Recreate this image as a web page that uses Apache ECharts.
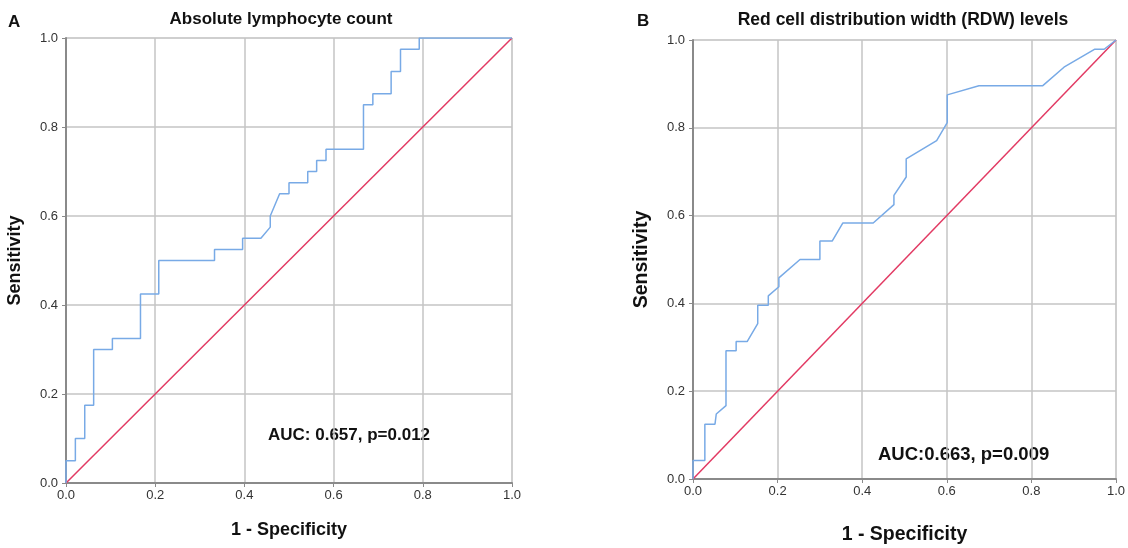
<!DOCTYPE html>
<html>
<head>
<meta charset="utf-8">
<script src="https://cdn.jsdelivr.net/npm/echarts@6/dist/echarts.min.js"></script>
<style>
  html, body { margin: 0; padding: 0; background: #fff; }
  #container { width: 1128px; height: 548px; }
</style>
</head>
<body>
<div id="container"></div>
<script>
// ROC curve A - absolute lymphocyte count (1 - specificity, sensitivity)
var fprA = [0, 0, 0.021, 0.021, 0.042, 0.042, 0.062, 0.062, 0.104, 0.104, 0.167, 0.167, 0.208, 0.208,
    0.333, 0.333, 0.396, 0.396, 0.437, 0.458, 0.458, 0.479, 0.5, 0.5, 0.542, 0.542, 0.562, 0.562,
    0.583, 0.583, 0.667, 0.667, 0.688, 0.688, 0.729, 0.729, 0.75, 0.75, 0.792, 0.792, 1];
var tprA = [0, 0.05, 0.05, 0.1, 0.1, 0.175, 0.175, 0.3, 0.3, 0.325, 0.325, 0.425, 0.425, 0.5,
    0.5, 0.525, 0.525, 0.55, 0.55, 0.575, 0.6, 0.65, 0.65, 0.675, 0.675, 0.7, 0.7, 0.725,
    0.725, 0.75, 0.75, 0.85, 0.85, 0.875, 0.875, 0.925, 0.925, 0.975, 0.975, 1, 1];

// ROC curve B - RDW levels
var fprB = [0, 0, 0.028, 0.028, 0.052, 0.055, 0.078, 0.078, 0.102, 0.102, 0.128, 0.153, 0.153, 0.178,
    0.178, 0.203, 0.203, 0.253, 0.3, 0.3, 0.329, 0.354, 0.426, 0.475, 0.475, 0.504, 0.504,
    0.576, 0.601, 0.601, 0.676, 0.827, 0.877, 0.95, 0.972, 1];
var tprB = [0, 0.042, 0.042, 0.125, 0.125, 0.148, 0.167, 0.292, 0.292, 0.313, 0.313, 0.354, 0.396, 0.396,
    0.417, 0.438, 0.458, 0.5, 0.5, 0.542, 0.542, 0.583, 0.583, 0.625, 0.646, 0.688, 0.729,
    0.771, 0.812, 0.875, 0.896, 0.896, 0.938, 0.979, 0.979, 1];

// reference line
var refX = [0, 1];
var refY = [0, 1];

var titles = ['Absolute lymphocyte count', 'Red cell distribution width (RDW) levels'];
var aucText = ['AUC: 0.657, p=0.012', 'AUC:0.663, p=0.009'];

function pairs(xs, ys) {
    var out = [];
    for (var i = 0; i < xs.length; i++) out.push([xs[i], ys[i]]);
    return out;
}

var FONT = '"Liberation Sans", Arial, sans-serif';
var blue = '#78aae6';
var red = '#e23a63';

function xAxisCfg(idx, gap, nameSize) {
    return {
        gridIndex: idx, type: 'value', min: 0, max: 1, interval: 0.2,
        name: '1 - Specificity', nameLocation: 'middle', nameGap: gap,
        nameTextStyle: { fontFamily: FONT, fontSize: nameSize, fontWeight: 'bold', color: '#111' },
        axisLine: { show: true, lineStyle: { color: '#8a8a8a', width: 2 } },
        axisTick: { show: true, length: 4, lineStyle: { color: '#8a8a8a' } },
        axisLabel: { fontFamily: FONT, fontSize: 13, color: '#333', margin: 6,
            formatter: function (v) { return v.toFixed(1); } },
        splitLine: { show: true, lineStyle: { color: '#c4c4c4', width: 1.5 } }
    };
}
function yAxisCfg(idx, gap, nameSize) {
    return {
        gridIndex: idx, type: 'value', min: 0, max: 1, interval: 0.2,
        name: 'Sensitivity', nameLocation: 'middle', nameGap: gap,
        nameTextStyle: { fontFamily: FONT, fontSize: nameSize, fontWeight: 'bold', color: '#111' },
        axisLine: { show: true, lineStyle: { color: '#8a8a8a', width: 2 } },
        axisTick: { show: true, length: 4, lineStyle: { color: '#8a8a8a' } },
        axisLabel: { fontFamily: FONT, fontSize: 13, color: '#333', margin: 8,
            formatter: function (v) { return v.toFixed(1); } },
        splitLine: { show: true, lineStyle: { color: '#c4c4c4', width: 1.5 } }
    };
}
function lineSeries(idx, data, color, w) {
    return {
        type: 'line', xAxisIndex: idx, yAxisIndex: idx, data: data,
        showSymbol: false, symbol: 'none', animation: false,
        lineStyle: { color: color, width: w }
    };
}

var dom = document.getElementById('container');
var myChart = echarts.init(dom);
var option = {
    backgroundColor: '#fff',
    animation: false,
    title: [
        { text: 'A', left: 3, top: 9, textStyle: { fontFamily: FONT, fontSize: 17, fontWeight: 'bold', color: '#111' } },
        { text: titles[0], left: 276, top: 6, textAlign: 'center',
            textStyle: { fontFamily: FONT, fontSize: 17, fontWeight: 'bold', color: '#111' } },
        { text: 'B', left: 632, top: 8, textAlign: 'left',
            textStyle: { fontFamily: FONT, fontSize: 17, fontWeight: 'bold', color: '#111' } },
        { text: titles[1], left: 898, top: 6, textAlign: 'center',
            textStyle: { fontFamily: FONT, fontSize: 17.5, fontWeight: 'bold', color: '#111' } }
    ],
    grid: [
        { left: 66, top: 38, width: 446, height: 445, show: true, borderColor: '#dcdcdc', borderWidth: 1,
            outerBoundsMode: 'none' },
        { left: 693, top: 40, width: 423, height: 439, show: true, borderColor: '#dcdcdc', borderWidth: 1,
            outerBoundsMode: 'none' }
    ],
    xAxis: [xAxisCfg(0, 38, 18), xAxisCfg(1, 46, 19.5)],
    yAxis: [yAxisCfg(0, 42, 18), yAxisCfg(1, 41, 19.5)],
    graphic: [
        { type: 'text', left: 268, top: 427, style: { text: aucText[0], font: 'bold 17px ' + FONT, fill: '#111' } },
        { type: 'text', left: 878, top: 445, style: { text: aucText[1], font: 'bold 18.5px ' + FONT, fill: '#111' } }
    ],
    series: [
        lineSeries(0, pairs(refX, refY), red, 1.5),
        lineSeries(0, pairs(fprA, tprA), blue, 1.5),
        lineSeries(1, pairs(refX, refY), red, 1.5),
        lineSeries(1, pairs(fprB, tprB), blue, 1.5)
    ]
};
if (option && typeof option === "object") {
    myChart.setOption(option, true);
}
</script>
</body>
</html>
